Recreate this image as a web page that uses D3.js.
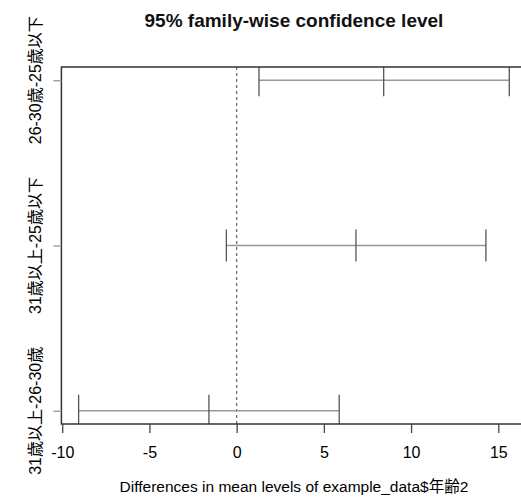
<!DOCTYPE html>
<html><head><meta charset="utf-8">
<script src="https://cdn.jsdelivr.net/npm/d3@7"></script>
<style>body{margin:0;background:#fff}svg{display:block}text{font-family:"Liberation Sans",Arial,"Noto Sans CJK JP",sans-serif}</style>
</head><body>
<script>
const comparisons = ["26-30歳-25歳以下", "31歳以上-25歳以下", "31歳以上-26-30歳"];
const diffs = [8.43, 6.84, -1.59];
const lowers = [1.28, -0.59, -9.06];
const uppers = [15.63, 14.29, 5.88];
const xTicks = [-10, -5, 0, 5, 10, 15];
const title = "95% family-wise confidence level";
const xTitle = "Differences in mean levels of example_data$年齢2";

(function () {
const W = 521, H = 498;
const svg = d3.select("body").append("svg").attr("width", W).attr("height", H);
const pl = 61.4, pr = 526.5, pt = 67, pb = 424;

const lo = d3.min(lowers), hi = d3.max(uppers), ext = (hi - lo) * 0.04;
const x = d3.scaleLinear().domain([lo - ext, hi + ext]).range([pl, pr]);
const n = comparisons.length;
const y = d3.scaleLinear().domain([1 - 0.04 * (n - 1), n + 0.04 * (n - 1)]).range([pb, pt]);
const yv = i => y(n - i);

svg.append("defs").append("clipPath").attr("id", "plotclip")
  .append("rect").attr("x", pl).attr("y", pt).attr("width", pr - pl).attr("height", pb - pt);

const g = svg.append("g").attr("clip-path", "url(#plotclip)");

g.append("line").attr("x1", x(0)).attr("x2", x(0)).attr("y1", pt).attr("y2", pb)
  .attr("stroke", "#666").attr("stroke-width", 1.2).attr("stroke-dasharray", "3,3");

comparisons.forEach((c, i) => {
  g.append("line").attr("x1", x(lowers[i])).attr("x2", x(uppers[i]))
    .attr("y1", yv(i)).attr("y2", yv(i)).attr("stroke", "#999").attr("stroke-width", 1.6);
  [lowers[i], diffs[i], uppers[i]].forEach(v => {
    g.append("line").attr("x1", x(v)).attr("x2", x(v))
      .attr("y1", yv(i) - 16).attr("y2", yv(i) + 16)
      .attr("stroke", "#555").attr("stroke-width", 1.3);
  });
});

svg.append("rect").attr("x", pl).attr("y", pt).attr("width", pr - pl).attr("height", pb - pt)
  .attr("fill", "none").attr("stroke", "#333").attr("stroke-width", 1.5);

const xa = svg.append("g").attr("transform", `translate(0,${pb})`)
  .call(d3.axisBottom(x).tickValues(xTicks).tickSize(9).tickPadding(14).tickFormat(d => String(d)));
xa.select(".domain").remove();
xa.selectAll("line").attr("stroke", "#444").attr("stroke-width", 1.3);
xa.selectAll("text").attr("font-size", 16).attr("fill", "#000")
  .attr("font-family", '"Liberation Sans",Arial,sans-serif');

const ya = svg.append("g").attr("transform", `translate(${pl},0)`)
  .call(d3.axisLeft(d3.scaleOrdinal().domain(comparisons).range(comparisons.map((c, i) => yv(i))))
    .tickSize(8).tickFormat(() => ""));
ya.select(".domain").remove();
ya.selectAll("line").attr("stroke", "#999").attr("stroke-width", 1.3);

comparisons.forEach((c, i) => {
  svg.append("text").attr("transform", `translate(41,${yv(i)}) rotate(-90)`)
    .attr("text-anchor", "middle").attr("font-size", 16).attr("fill", "#000").text(c);
});

svg.append("text").attr("x", (pl + pr) / 2).attr("y", 27).attr("text-anchor", "middle")
  .attr("font-size", 19).attr("font-weight", "bold").attr("fill", "#111").text(title);

svg.append("text").attr("x", (pl + pr) / 2).attr("y", 492).attr("text-anchor", "middle")
  .attr("font-size", 15.5).attr("fill", "#000").text(xTitle);
})();
</script>
</body></html>
